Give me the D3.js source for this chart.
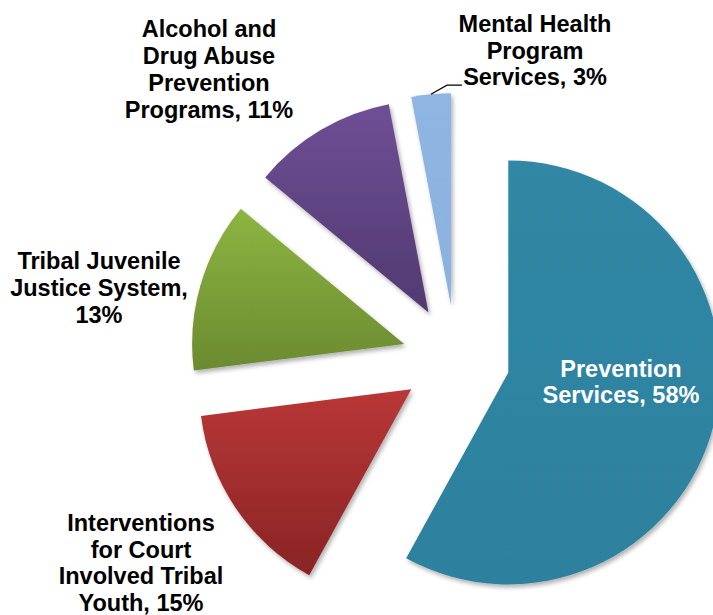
<!DOCTYPE html>
<html>
<head>
<meta charset="utf-8">
<script src="https://cdn.jsdelivr.net/npm/d3@7"></script>
<style>
  body { margin: 0; background: #fff; }
  svg { display: block; }
  text { font-family: "Liberation Sans", Arial, sans-serif; font-weight: bold; }
</style>
</head>
<body>
<div id="container"></div>
<script>
/* DATA */
const categories = [
  "Prevention Services",
  "Interventions for Court Involved Tribal Youth",
  "Tribal Juvenile Justice System",
  "Alcohol and Drug Abuse Prevention Programs",
  "Mental Health Program Services"
];
const shares = [58, 15, 13, 11, 3];
// label text, broken into lines as in the picture
const labelLines = [
  ["Prevention", "Services, 58%"],
  ["Interventions", "for Court", "Involved Tribal", "Youth, 15%"],
  ["Tribal Juvenile", "Justice System,", "13%"],
  ["Alcohol and", "Drug Abuse", "Prevention", "Programs, 11%"],
  ["Mental Health", "Program", "Services, 3%"]
];

/* LAYOUT */
const width = 713;
const height = 615;
const center = { x: 456, y: 359 };
const radius = 212;
const explode = 54;

// top / bottom gradient colours per slice
const topColors = ["#3087a5", "#b93737", "#8db542", "#6f4f96", "#8fb5e3"];
const bottomColors = ["#2d819e", "#892424", "#6b8a30", "#503970", "#8bb1df"];
const labelColors = ["#ffffff", "#000000", "#000000", "#000000", "#000000"];

// label anchor relative to pie centre: [dx, first baseline dy, line height, font size]
const labelPos = [
  [165, 18, 25.5, 23.5],
  [-315, 172, 26.7, 23.5],
  [-357, -90, 27, 23.5],
  [-247, -322, 27, 23.5],
  [79, -327, 26.5, 23.5]
];

const svg = d3.select("#container")
  .append("svg")
  .attr("width", width)
  .attr("height", height);

const defs = svg.append("defs");

const shadow = defs.append("filter")
  .attr("id", "shadow")
  .attr("x", "-10%").attr("y", "-10%")
  .attr("width", "130%").attr("height", "130%");
shadow.append("feDropShadow")
  .attr("dx", 2).attr("dy", 3)
  .attr("stdDeviation", 2)
  .attr("flood-color", "#000")
  .attr("flood-opacity", 0.3);

categories.forEach((c, i) => {
  const g = defs.append("linearGradient")
    .attr("id", "grad" + i)
    .attr("x1", 0).attr("y1", 0)
    .attr("x2", 0).attr("y2", 1);
  g.append("stop").attr("offset", "0%").attr("stop-color", topColors[i]);
  g.append("stop").attr("offset", "100%").attr("stop-color", bottomColors[i]);
});

const pie = d3.pie().sort(null).value(d => d)
const arcs = pie(shares);

const arc = d3.arc()
  .innerRadius(0)
  .outerRadius(radius);

const offset = d => {
  const mid = (d.startAngle + d.endAngle) / 2;
  return [explode * Math.sin(mid), -explode * Math.cos(mid)];
};

const chart = svg.append("g")
  .attr("transform", `translate(${center.x},${center.y})`);

chart.selectAll("path.slice")
  .data(arcs)
  .join("path")
  .attr("class", "slice")
  .attr("d", arc)
  .attr("fill", (d, i) => `url(#grad${i})`)
  .attr("filter", "url(#shadow)")
  .attr("transform", d => {
    const o = offset(d);
    return `translate(${o[0]},${o[1]})`;
  });

// leader line for the small slice
const small = arcs[4];
const sMid = (small.startAngle + small.endAngle) / 2;
const so = offset(small);
const sx = so[0] + radius * Math.sin(sMid);
const sy = so[1] - radius * Math.cos(sMid);
chart.append("polyline")
  .attr("points", [[sx, sy], [sx + 16, sy - 9], [sx + 31, sy - 9]].map(p => p.join(",")).join(" "))
  .attr("fill", "none")
  .attr("stroke", "#000")
  .attr("stroke-width", 1.2);

// labels
const labels = chart.selectAll("text.label")
  .data(arcs)
  .join("text")
  .attr("class", "label")
  .attr("text-anchor", "middle")
  .attr("fill", (d, i) => labelColors[i])
  .attr("font-size", (d, i) => labelPos[i][3] + "px");

labels.each(function (d, i) {
  const [dx, dy, lh] = labelPos[i];
  d3.select(this).selectAll("tspan")
    .data(labelLines[i])
    .join("tspan")
    .attr("x", dx)
    .attr("y", (t, j) => dy + j * lh)
    .text(t => t);
});
</script>
</body>
</html>
